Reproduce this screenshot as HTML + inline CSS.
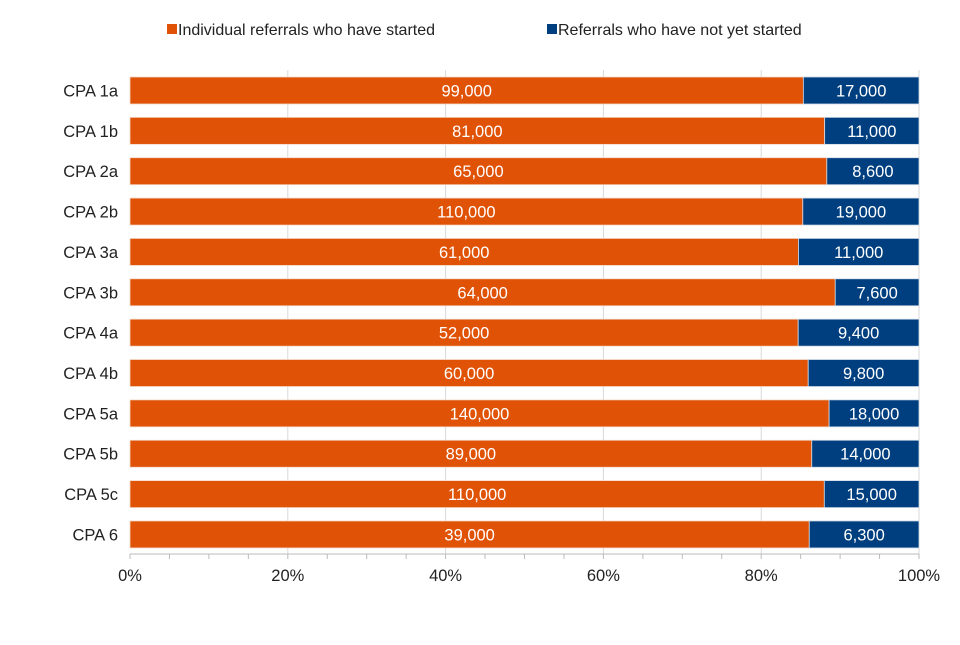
<!DOCTYPE html>
<html><head><meta charset="utf-8"><style>
body{margin:0;background:#fff;font-family:"Liberation Sans",Arial,sans-serif;}
svg text{font-family:"Liberation Sans",Arial,sans-serif;}
</style></head><body>
<svg id="chart" width="960" height="640" viewBox="0 0 960 640">
<g>
<rect x="167" y="24" width="10" height="10" fill="#E05206"/>
<text x="178" y="35" font-size="16" fill="#222">Individual referrals who have started</text>
<rect x="547" y="24" width="10" height="10" fill="#003F7F"/>
<text x="558" y="35" font-size="16" fill="#222">Referrals who have not yet started</text>
</g>
<g id="grid"></g><g id="bars"></g><g id="axis"></g>
</svg>
<script>
const categories=["CPA 1a","CPA 1b","CPA 2a","CPA 2b","CPA 3a","CPA 3b","CPA 4a","CPA 4b","CPA 5a","CPA 5b","CPA 5c","CPA 6"];
const started=[99000,81000,65000,110000,61000,64000,52000,60000,140000,89000,110000,39000];
const notStarted=[17000,11000,8600,19000,11000,7600,9400,9800,18000,14000,15000,6300];
const tickLabels=["0%","20%","40%","60%","80%","100%"];
const NS="http://www.w3.org/2000/svg";
const x0=130,x1=919,top0=77,pitch=40.36,bh=27,base=554,fs=16.5;
const xs=p=>x0+(x1-x0)*p;
function mk(t,a,parent){const e=document.createElementNS(NS,t);for(const k in a)e.setAttribute(k,a[k]);parent.appendChild(e);return e;}
const grid=document.getElementById('grid'),bars=document.getElementById('bars'),axis=document.getElementById('axis');
tickLabels.forEach((l,i)=>{const x=xs(i/(tickLabels.length-1));
 if(i>0){const g=mk('line',{x1:x,x2:x,y1:70,y2:base,stroke:'#d9d9d9','stroke-width':1},grid);
 
 }
 const t=mk('text',{x:x,y:base+27,'font-size':fs,'text-anchor':'middle',fill:'#222'},axis);t.textContent=l;
 
 
});
for(let i=0;i<=20;i++){const x=xs(i/20);const tk=mk('line',{x1:x,x2:x,y1:base,y2:base+5,stroke:'#bbb'},axis);
 
 }
const ax=mk('line',{x1:x0,x2:x1,y1:base,y2:base,stroke:'#bbb'},axis);


const fmt=v=>v.toLocaleString('en-US');
categories.forEach((c,i)=>{const y=top0+i*pitch;const tot=started[i]+notStarted[i];const p=started[i]/tot;
 const a=mk('rect',{x:x0,y:y,width:xs(p)-x0,height:bh,fill:'#E05206',stroke:'#f3d9c9','stroke-width':0.8},bars);
 
 
 const b=mk('rect',{x:xs(p),y:y,width:x1-xs(p),height:bh,fill:'#003F7F',stroke:'#d0dbe8','stroke-width':0.8},bars);
 
 
 const t1=mk('text',{x:(x0+xs(p))/2,y:y+bh/2+6,'font-size':fs,'text-anchor':'middle',fill:'#fff'},bars);t1.textContent=fmt(started[i]);
 
 
 const t2=mk('text',{x:(xs(p)+x1)/2,y:y+bh/2+6,'font-size':fs,'text-anchor':'middle',fill:'#fff'},bars);t2.textContent=fmt(notStarted[i]);
 
 
 const cl=mk('text',{x:118,y:y+bh/2+6,'font-size':fs,'text-anchor':'end',fill:'#222'},axis);cl.textContent=c;
 
 
});
</script>
</body></html>
